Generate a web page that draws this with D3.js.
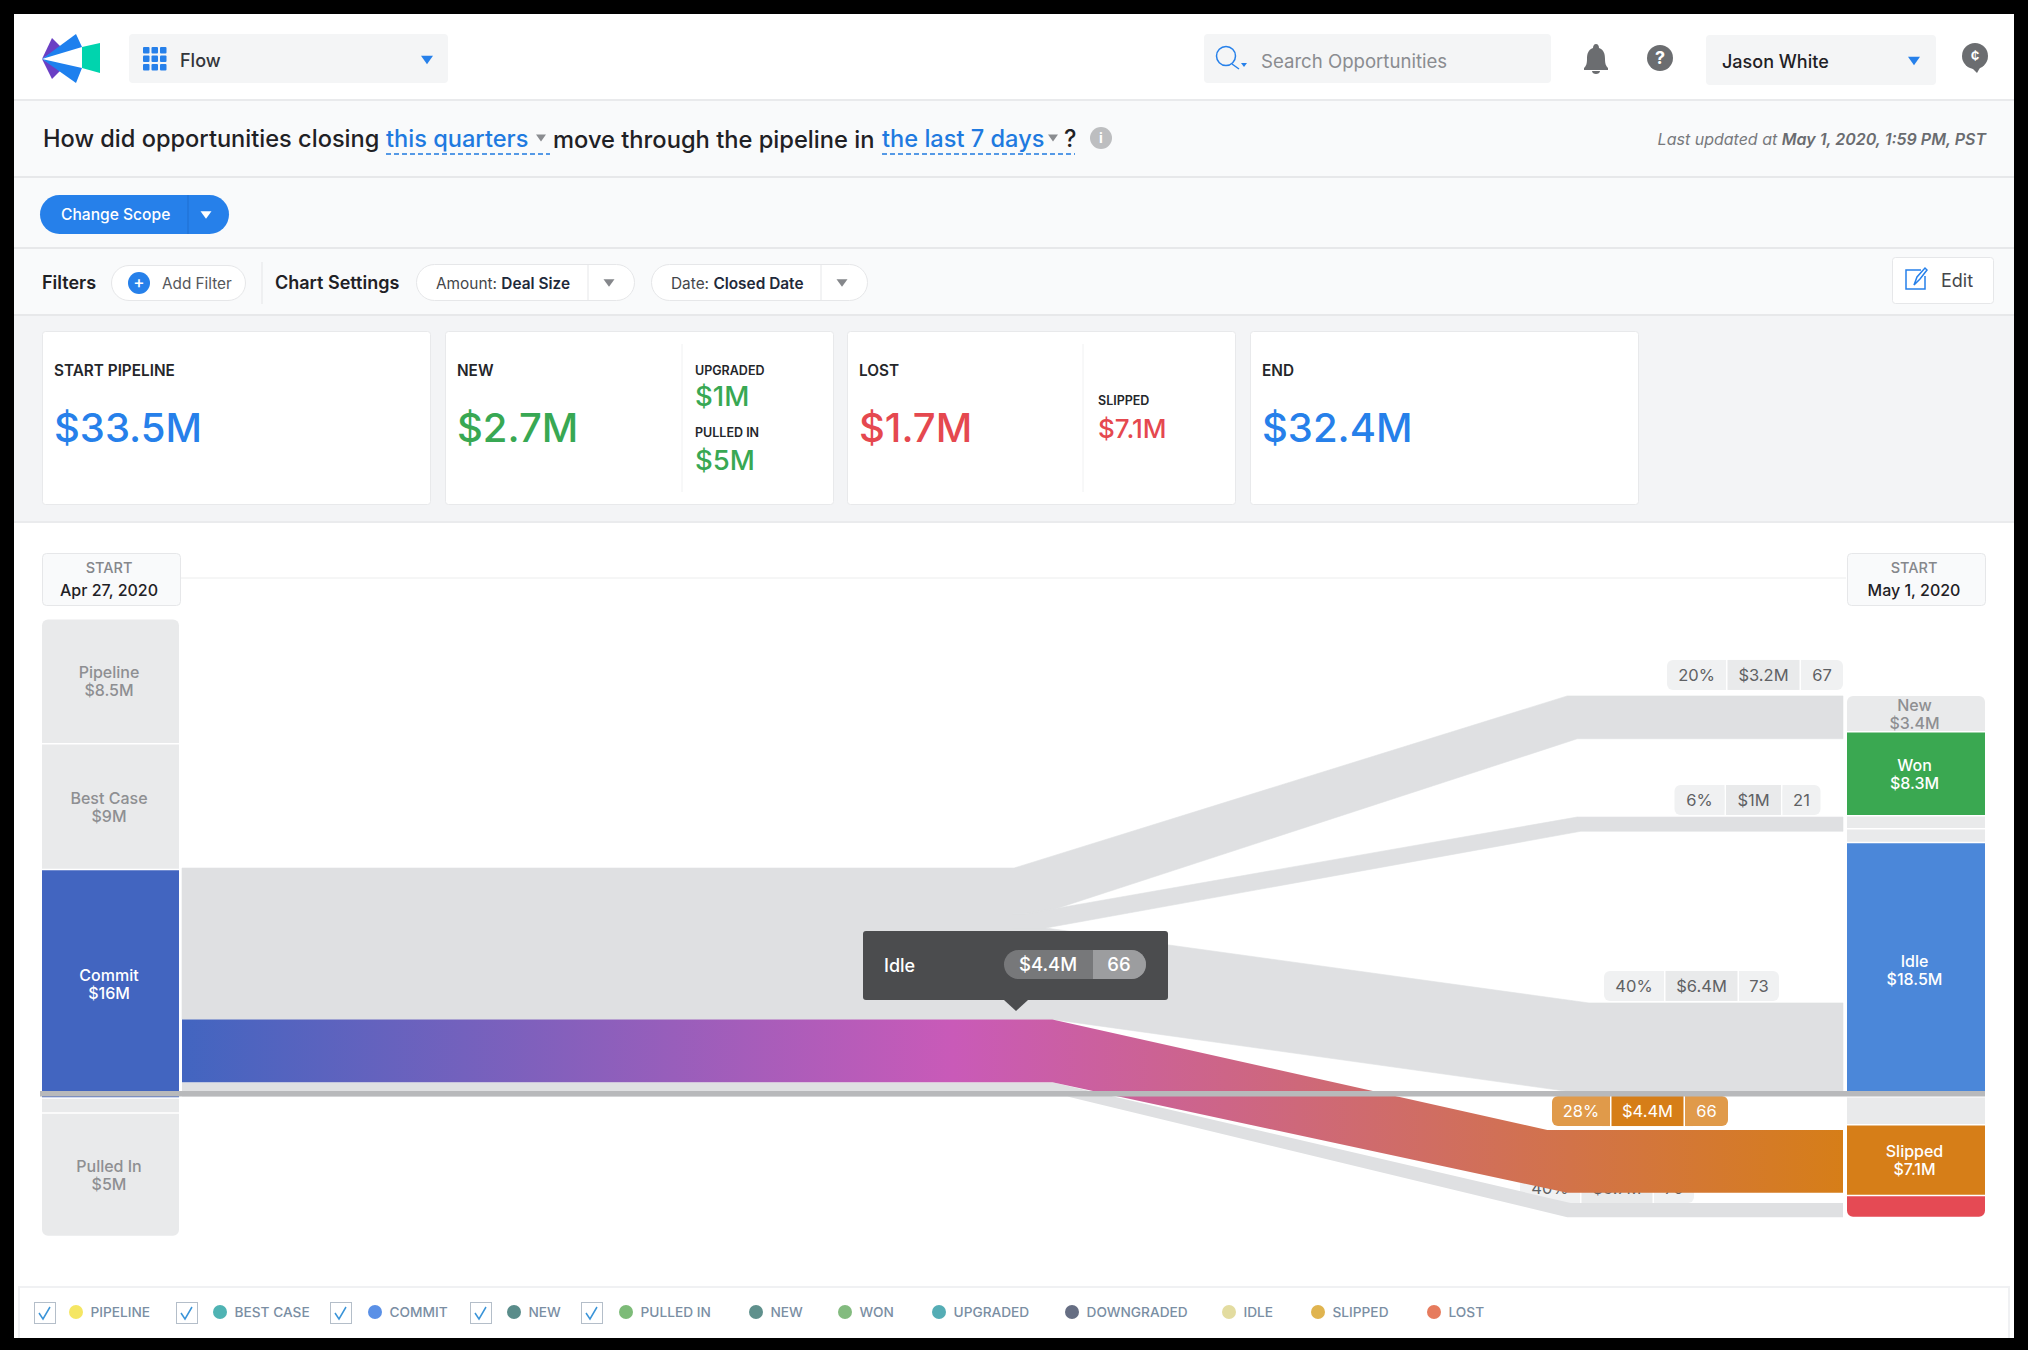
<!DOCTYPE html>
<html>

<head>
  <title>Flow</title>
  <meta charset="utf-8">
  <script src="https://d3js.org/d3.v7.min.js"></script>
  <style>
    html, body { margin: 0; padding: 0; background: #000; }
    svg { display: block; }
    text { font-family: Inter, "Noto Sans", sans-serif; }
  </style>
</head>

<body>
  <svg id="chart" width="2028" height="1350"></svg>

  <script>
    // start column. bands = drawn height in $M of the flow scale, blocks are not
    // proportional to their labels in the original
    const startNames = ["Pipeline", "Best Case", "Commit", "", "Pulled In"];
    const startLabels = ["$8.5M", "$9M", "$16M", "", "$5M"];
    const startBands = [8.66, 8.8, 16, 1.05, 8.65];

    // end column
    const endNames = ["New", "Won", "", "", "Idle", "", "Slipped", ""];
    const endLabels = ["$3.4M", "$8.3M", "", "", "$18.5M", "", "$7.1M", ""];
    const endBands = [2.45, 5.88, 0.91, 0.98, 17.79, 1.96, 4.97, 1.54];

    // flows out of Commit, top to bottom
    const flowValues = [3.2, 1, 6.4, 4.4, 1];
    const flowEndBands = [3.0, 1, 6.4, 4.4, 1];
    const flowPct = ["20%", "6%", "40%", "28%", "40%"];
    const flowAmount = ["$3.2M", "$1M", "$6.4M", "$4.4M", "$5.7M"];
    const flowCount = ["67", "21", "73", "66", "70"];
    const flowEndAt = [5.36, 13.84, 26.86, 35.76, 40.87];
    // where each edge starts and stops bending, % of the way across
    const flowTopBreaks = [[50.1, 83.4], [50.8, 84], [52, 84.7], [52.4, 82.2], [52.4, 83.6]];
    const flowBottomBreaks = [[51.7, 84], [52, 84.2], [52.4, 84.7], [52.4, 83.4], [53.3, 83.4]];

    const legendNames = ["PIPELINE", "BEST CASE", "COMMIT", "NEW", "PULLED IN", "NEW", "WON", "UPGRADED", "DOWNGRADED", "IDLE", "SLIPPED", "LOST"];
    const legendColors = ["#f5e663", "#4fb3b3", "#5a90e6", "#5a8c8a", "#7dbb78", "#5f908c", "#83bb7f", "#55adb5", "#666e83", "#e3dca0", "#e0b44f", "#e67b5d"];
    const legendDotX = [76, 220, 375, 514, 626, 756, 845, 939, 1072, 1229, 1318, 1434];
    const legendBoxX = [34, 176, 330, 470, 581];

    const BLUE = "#2680ea", GREEN = "#38a853", RED = "#e5484f";
    const svg = d3.select("#chart");

    function rect(p, x, y, w, h, fill, rx, stroke) {
      return p.append("rect").attr("x", x).attr("y", y).attr("width", w).attr("height", h)
        .attr("fill", fill).attr("rx", rx || 0).attr("stroke", stroke || "none");
    }

    function label(p, x, y, str, size, fill, weight, anchor) {
      return p.append("text").attr("x", x).attr("y", y).attr("dy", "0.36em")
        .attr("font-size", size).attr("fill", fill).attr("font-weight", weight || 400)
        .attr("text-anchor", anchor || "start").text(str);
    }

    function caret(p, cx, cy, size, fill) {
      p.append("path").attr("fill", fill)
        .attr("d", `M${cx - size},${cy - size * 0.7}L${cx + size},${cy - size * 0.7}L${cx},${cy + size * 0.7}Z`);
    }

    function hline(p, x1, x2, y, color) {
      p.append("line").attr("x1", x1).attr("x2", x2).attr("y1", y).attr("y2", y)
        .attr("stroke", color).attr("stroke-width", 2);
    }

    // page background, the screenshot has a black frame
    rect(svg, 14, 14, 2000, 1324, "#fff");
    rect(svg, 14, 101, 2000, 215, "#f9fafb");
    rect(svg, 14, 316, 2000, 206, "#f3f4f6");
    hline(svg, 14, 2014, 100, "#e9eaec");
    hline(svg, 14, 2014, 177, "#e7e8ea");
    hline(svg, 14, 2014, 248, "#e7e8ea");
    hline(svg, 14, 2014, 315, "#e7e8ea");
    hline(svg, 14, 2014, 522, "#eaebed");

    drawHeader();
    drawQuestion();
    drawControls();
    drawCards();
    drawFlow();
    drawLegend();

    function drawHeader() {
      const g = svg.append("g");
      // logo
      [["#6a3fc4", "52,38 42,59 61,47"], ["#6a3fc4", "42,59 52,79 61,70"],
       ["#1e80ee", "76,34 42,59 82,47"], ["#1e80ee", "42,59 82,68 76,83"],
       ["#00d4ae", "82,47 100,43 100,73 82,68"]].forEach(function (d) {
        g.append("polygon").attr("points", d[1]).attr("fill", d[0]);
      });

      rect(g, 129, 34, 319, 49, "#f4f5f6", 4);
      for (let i = 0; i < 3; i++) {
        for (let j = 0; j < 3; j++) {
          rect(g, 143 + i * 8.5, 47 + j * 8.5, 6.5, 6.5, BLUE, 1);
        }
      }
      label(g, 180, 61, "Flow", 18, "#33353a", 500);
      caret(g, 427, 60, 6, BLUE);

      rect(g, 1204, 34, 347, 49, "#f4f5f6", 4);
      g.append("circle").attr("cx", 1226).attr("cy", 56).attr("r", 9.5).attr("fill", "none").attr("stroke", BLUE).attr("stroke-width", 1.5);
      g.append("line").attr("x1", 1232).attr("y1", 64).attr("x2", 1239).attr("y2", 69).attr("stroke", BLUE).attr("stroke-width", 1.5);
      caret(g, 1244, 65, 3, BLUE);
      label(g, 1261, 61, "Search Opportunities", 18.6, "#8a8c90", 400);

      // bell
      g.append("path").attr("fill", "#6b6d70")
        .attr("d", "M1596,44c2,0,3,2,3,4c5,2,6,6,6,11c0,5,1,7,3,9v2h-24v-2c2,-2,3,-4,3,-9c0,-5,1,-9,6,-11c0,-2,1,-4,3,-4zM1592,71h8c0,4,-8,4,-8,0z");
      g.append("circle").attr("cx", 1660).attr("cy", 58).attr("r", 13).attr("fill", "#6b6d70");
      label(g, 1660, 58, "?", 18, "#fff", 700, "middle");

      rect(g, 1706, 35, 230, 50, "#f4f5f6", 4);
      label(g, 1722, 62, "Jason White", 18, "#1f2125", 500);
      caret(g, 1914, 61, 6, BLUE);

      g.append("circle").attr("cx", 1975).attr("cy", 56).attr("r", 13).attr("fill", "#6b6d70");
      g.append("path").attr("d", "M1970,66L1977,73L1981,66Z").attr("fill", "#6b6d70");
      label(g, 1975, 56, "¢", 15, "#fff", 600, "middle");
    }

    function drawQuestion() {
      const g = svg.append("g");
      const y = 139;
      label(g, 43, y, "How did opportunities closing", 23.6, "#1f2125", 500);
      label(g, 386, y, "this quarters", 23.6, "#1f7ae0", 500);
      caret(g, 541, 138, 5, "#8a8c90");
      label(g, 553, y, "move through the pipeline in", 23.7, "#1f2125", 500);
      label(g, 882, y, "the last 7 days", 23.6, "#1f7ae0", 500);
      caret(g, 1053, 138, 5, "#8a8c90");
      label(g, 1064, y, "?", 23.6, "#1f2125", 500);
      [[386, 550], [882, 1075]].forEach(function (d) {
        g.append("line").attr("x1", d[0]).attr("x2", d[1]).attr("y1", 154).attr("y2", 154)
          .attr("stroke", "#1f7ae0").attr("stroke-width", 1.5).attr("stroke-dasharray", "5,3");
      });
      g.append("circle").attr("cx", 1101).attr("cy", 138).attr("r", 11).attr("fill", "#bdbec0");
      label(g, 1101, 138, "i", 14, "#fff", 700, "middle");

      const updated = label(g, 1986, y, "Last updated at ", 16, "#77797d", 400, "end").attr("font-style", "italic");
      updated.append("tspan").attr("font-weight", 600).attr("fill", "#6a6c70").text("May 1, 2020, 1:59 PM, PST");
    }

    function drawControls() {
      const g = svg.append("g");
      rect(g, 40, 195, 189, 39, BLUE, 19.5);
      label(g, 61, 214, "Change Scope", 15.6, "#fff", 500);
      g.append("line").attr("x1", 188).attr("x2", 188).attr("y1", 195).attr("y2", 234).attr("stroke", "#1f6fd0");
      caret(g, 206, 215, 5.5, "#fff");

      label(g, 42, 283, "Filters", 18, "#1f2125", 600);
      rect(g, 111.5, 265.5, 134, 35, "#fff", 17.5, "#e6e7e9");
      g.append("circle").attr("cx", 139).attr("cy", 283).attr("r", 11).attr("fill", BLUE);
      label(g, 139, 282, "+", 17, "#fff", 500, "middle");
      label(g, 162, 283, "Add Filter", 15.3, "#55575b", 400);
      g.append("line").attr("x1", 262).attr("x2", 262).attr("y1", 262).attr("y2", 304).attr("stroke", "#e4e5e7");
      label(g, 275, 283, "Chart Settings", 18, "#1f2125", 600);

      [[416, 218, 436, "Amount: ", "Deal Size", 588, 609], [651, 216, 671, "Date: ", "Closed Date", 821, 842]].forEach(function (d) {
        rect(g, d[0] + 0.5, 264.5, d[1], 36, "#fff", 18, "#e6e7e9");
        const t = label(g, d[2], 283, d[3], 15.4, "#44464a", 400);
        t.append("tspan").attr("font-weight", 600).attr("fill", "#1f2a3a").text(d[4]);
        g.append("line").attr("x1", d[5]).attr("x2", d[5]).attr("y1", 265).attr("y2", 300).attr("stroke", "#e6e7e9");
        caret(g, d[6], 283, 5.5, "#85878b");
      });

      rect(g, 1892.5, 257.5, 101, 46, "#fff", 3, "#e6e7e9");
      g.append("path").attr("fill", "none").attr("stroke", BLUE).attr("stroke-width", 1.5)
        .attr("d", "M1921,270H1906V289H1925V276M1914,285L1917,277L1925,268L1927,270L1920,279Z");
      label(g, 1941, 281, "Edit", 18, "#44464a", 400);
    }

    function drawCards() {
      const g = svg.append("g");
      [[43, "START PIPELINE", "$33.5M", BLUE], [446, "NEW", "$2.7M", GREEN], [848, "LOST", "$1.7M", RED], [1251, "END", "$32.4M", BLUE]].forEach(function (d) {
        rect(g, d[0] - 0.5, 331.5, 388, 173, "#fff", 3, "#e8e9eb");
        label(g, d[0] + 11, 370, d[1], 15.3, "#24262a", 600);
        label(g, d[0] + 11, 428, d[2], 40, d[3], 500);
      });
      [682, 1083].forEach(function (x) {
        g.append("line").attr("x1", x).attr("x2", x).attr("y1", 344).attr("y2", 492).attr("stroke", "#f0f1f2");
      });
      label(g, 695, 370, "UPGRADED", 12.5, "#24262a", 600);
      label(g, 695, 396, "$1M", 27.5, GREEN, 500);
      label(g, 695, 432, "PULLED IN", 12.5, "#24262a", 600);
      label(g, 695, 460, "$5M", 27.5, GREEN, 500);
      label(g, 1098, 400, "SLIPPED", 12.5, "#24262a", 600);
      label(g, 1098, 429, "$7.1M", 26, RED, 500);
    }

    function drawFlow() {
      const startX = 42, startW = 137, endX = 1847, endW = 138;

      const y = d3.scaleLinear().domain([0, 43.16]).range([619.4, 1235.7]);
      const x = d3.scaleLinear().domain([0, 100]).range([182, 1843]);
      const line = d3.line().x(function (d) { return d[0]; }).y(function (d) { return d[1]; });

      const g = svg.append("g");

      // date markers
      g.append("line").attr("x1", 180).attr("x2", 1846).attr("y1", 578).attr("y2", 578).attr("stroke", "#eceded");
      [[42, "Apr 27, 2020"], [1847, "May 1, 2020"]].forEach(function (d) {
        rect(g, d[0] + 0.5, 553.5, 138, 52, "#f9fafb", 4, "#e6e7e9");
        label(g, d[0] + 67, 568, "START", 14.5, "#85878b", 500, "middle");
        label(g, d[0] + 67, 590, d[1], 16, "#1f2125", 500, "middle");
      });

      // flow bands, left edge stacked under the top of Commit
      const commitTop = d3.sum(startBands.slice(0, 2));
      const leftTops = d3.cumsum([0].concat(flowValues)).map(function (v) { return y(commitTop + v) - 0.7; });

      const grad = svg.append("defs").append("linearGradient").attr("id", "idleGrad")
        .attr("gradientUnits", "userSpaceOnUse")
        .attr("x1", x(0)).attr("x2", x(100)).attr("y1", 0).attr("y2", 0);
      [[0, "#4265c0"], [46.4, "#c95ab8"], [100, "#d67e18"]].forEach(function (s) {
        grad.append("stop").attr("offset", s[0] + "%").attr("stop-color", s[1]);
      });

      function bandPath(i) {
        const top0 = leftTops[i], bot0 = leftTops[i + 1];
        const top1 = y(flowEndAt[i]), bot1 = top1 + y(flowEndBands[i]) - y(0);
        const tb = flowTopBreaks[i], bb = flowBottomBreaks[i];
        return line([
          [x(0), top0], [x(tb[0]), top0], [x(tb[1]), top1], [x(100), top1],
          [x(100), bot1], [x(bb[1]), bot1], [x(bb[0]), bot0], [x(0), bot0]
        ]) + "Z";
      }

      const selected = 3;
      const bandG = g.append("g");
      const badgeG = g.append("g");

      // grey flows overlap by a hair at the left so there is no seam between them
      [0, 1, 2].forEach(function (i) {
        bandG.append("path").attr("d", bandPath(i)).attr("fill", "#dfe0e2")
          .attr("stroke", "#dfe0e2").attr("stroke-width", 0.6);
      });
      rect(bandG, x(0), leftTops[0], x(50) - x(0), leftTops[3] - leftTops[0], "#dfe0e2");

      // badges sit just over the end of their flow
      const badgeRight = [1843, 1820.5, 1779, 1728, 1694];
      const badgeGap = [6, 2, 2, 4, 0];
      const cellWidths = [[59, 72, 42], [50, 55, 38], [60, 72, 40], [58, 72, 43], [60, 71, 40]];

      function drawBadge(parent, i) {
        const hot = i === selected;
        const bottom = y(flowEndAt[i]) - badgeGap[i];
        const cells = [flowPct[i], flowAmount[i], flowCount[i]];
        const w = cellWidths[i];
        let left = badgeRight[i] - d3.sum(w) - 3;
        cells.forEach(function (str, k) {
          const fill = hot ? (k === 1 ? "#d67e18" : "#e09a4a") : (k === 1 ? "#e9eaeb" : "#f0f1f2");
          const b = parent.append("g");
          rect(b, left, bottom - 30, w[k], 30, fill, k === 1 ? 0 : 6);
          // square off the inner corner of the end cells
          if (k !== 1) rect(b, k === 0 ? left + w[k] - 8 : left, bottom - 30, 8, 30, fill);
          label(b, left + w[k] / 2, bottom - 15, str, 16.5, hot ? "#fff" : "#5f6164", 400, "middle");
          left += w[k] + 1.5;
        });
      }

      // the fifth badge is covered by the highlighted flow
      drawBadge(bandG, 4);
      bandG.append("path").attr("d", bandPath(4)).attr("fill", "#dfe0e2");
      bandG.append("path").attr("d", bandPath(selected)).attr("fill", "url(#idleGrad)");
      [0, 1, 2, 3].forEach(function (i) { drawBadge(badgeG, i); });

      // blocks, rounded only on the outer corners of a column
      function blockPath(bx, by, bw, bh, rTop, rBot) {
        const p = d3.path();
        p.moveTo(bx + rTop, by);
        p.lineTo(bx + bw - rTop, by);
        if (rTop) p.arcTo(bx + bw, by, bx + bw, by + rTop, rTop);
        p.lineTo(bx + bw, by + bh - rBot);
        if (rBot) p.arcTo(bx + bw, by + bh, bx + bw - rBot, by + bh, rBot);
        p.lineTo(bx + rBot, by + bh);
        if (rBot) p.arcTo(bx, by + bh, bx, by + bh - rBot, rBot);
        p.lineTo(bx, by + rTop);
        if (rTop) p.arcTo(bx, by, bx + rTop, by, rTop);
        p.closePath();
        return p.toString();
      }

      function drawColumn(bx, bw, from, bands, names, labels, colors) {
        let pos = from;
        bands.forEach(function (b, i) {
          const top = y(pos) + (i ? 1.5 : 0), h = y(pos + b) - top;
          const rTop = i === 0 ? 6 : 0, rBot = i === bands.length - 1 ? 6 : 0;
          g.append("path").attr("d", blockPath(bx, top, bw, h, rTop, rBot)).attr("fill", colors[i] || "#e9eaeb");
          if (names[i]) {
            const c = top + h / 2, fg = colors[i] ? "#fff" : "#8e8f92";
            label(g, bx + bw / 2 - 1.5, c - 8.5, names[i], 16, fg, 500, "middle");
            label(g, bx + bw / 2 - 1.5, c + 9.5, labels[i], 16, fg, 500, "middle");
          }
          pos += b;
        });
      }

      drawColumn(startX, startW, 0, startBands, startNames, startLabels, [null, null, "#4265c0", null, null]);
      drawColumn(endX, endW, flowEndAt[0], endBands, endNames, endLabels, [null, "#3aa851", null, null, "#4b87d9", null, "#d67e18", "#e54a54"]);

      // baseline crosses everything
      rect(g, 40, 1091, 1945, 5.5, "#b8b9bb");

      // tooltip on the selected flow
      const tip = svg.append("g");
      rect(tip, 863, 931, 305, 69, "#4b4c4e", 3);
      tip.append("path").attr("d", "M1004,1000L1028,1000L1016,1011Z").attr("fill", "#4b4c4e");
      label(tip, 884, 966, "Idle", 18, "#fff", 500);
      rect(tip, 1004, 950, 142, 29, "#77787a", 14.5);
      rect(tip, 1093, 950, 53, 29, "#9c9d9f", 14.5);
      rect(tip, 1093, 950, 15, 29, "#9c9d9f");
      rect(tip, 1080, 950, 13, 29, "#77787a");
      label(tip, 1048, 964, flowAmount[selected], 18.5, "#fff", 500, "middle");
      label(tip, 1119, 964, flowCount[selected], 18.5, "#fff", 500, "middle");
    }

    function drawLegend() {
      const g = svg.append("g");
      g.append("path").attr("fill", "none").attr("stroke", "#f0f1f3").attr("stroke-width", 2)
        .attr("d", "M19,1338V1287H2009V1338");
      legendBoxX.forEach(function (bx) {
        rect(g, bx + 0.5, 1302.5, 21, 21, "#fff", 0, "#b4bec9");
        g.append("path").attr("fill", "none").attr("stroke", "#3a94d8").attr("stroke-width", 1.5)
          .attr("d", `M${bx + 5},1313L${bx + 9},1319L${bx + 16},1307`);
      });
      legendNames.forEach(function (name, i) {
        g.append("circle").attr("cx", legendDotX[i]).attr("cy", 1312).attr("r", 7).attr("fill", legendColors[i]);
        label(g, legendDotX[i] + 14.5, 1312, name, 13.7, "#7a8ea3", 500);
      });
    }
  </script>
</body>

</html>
